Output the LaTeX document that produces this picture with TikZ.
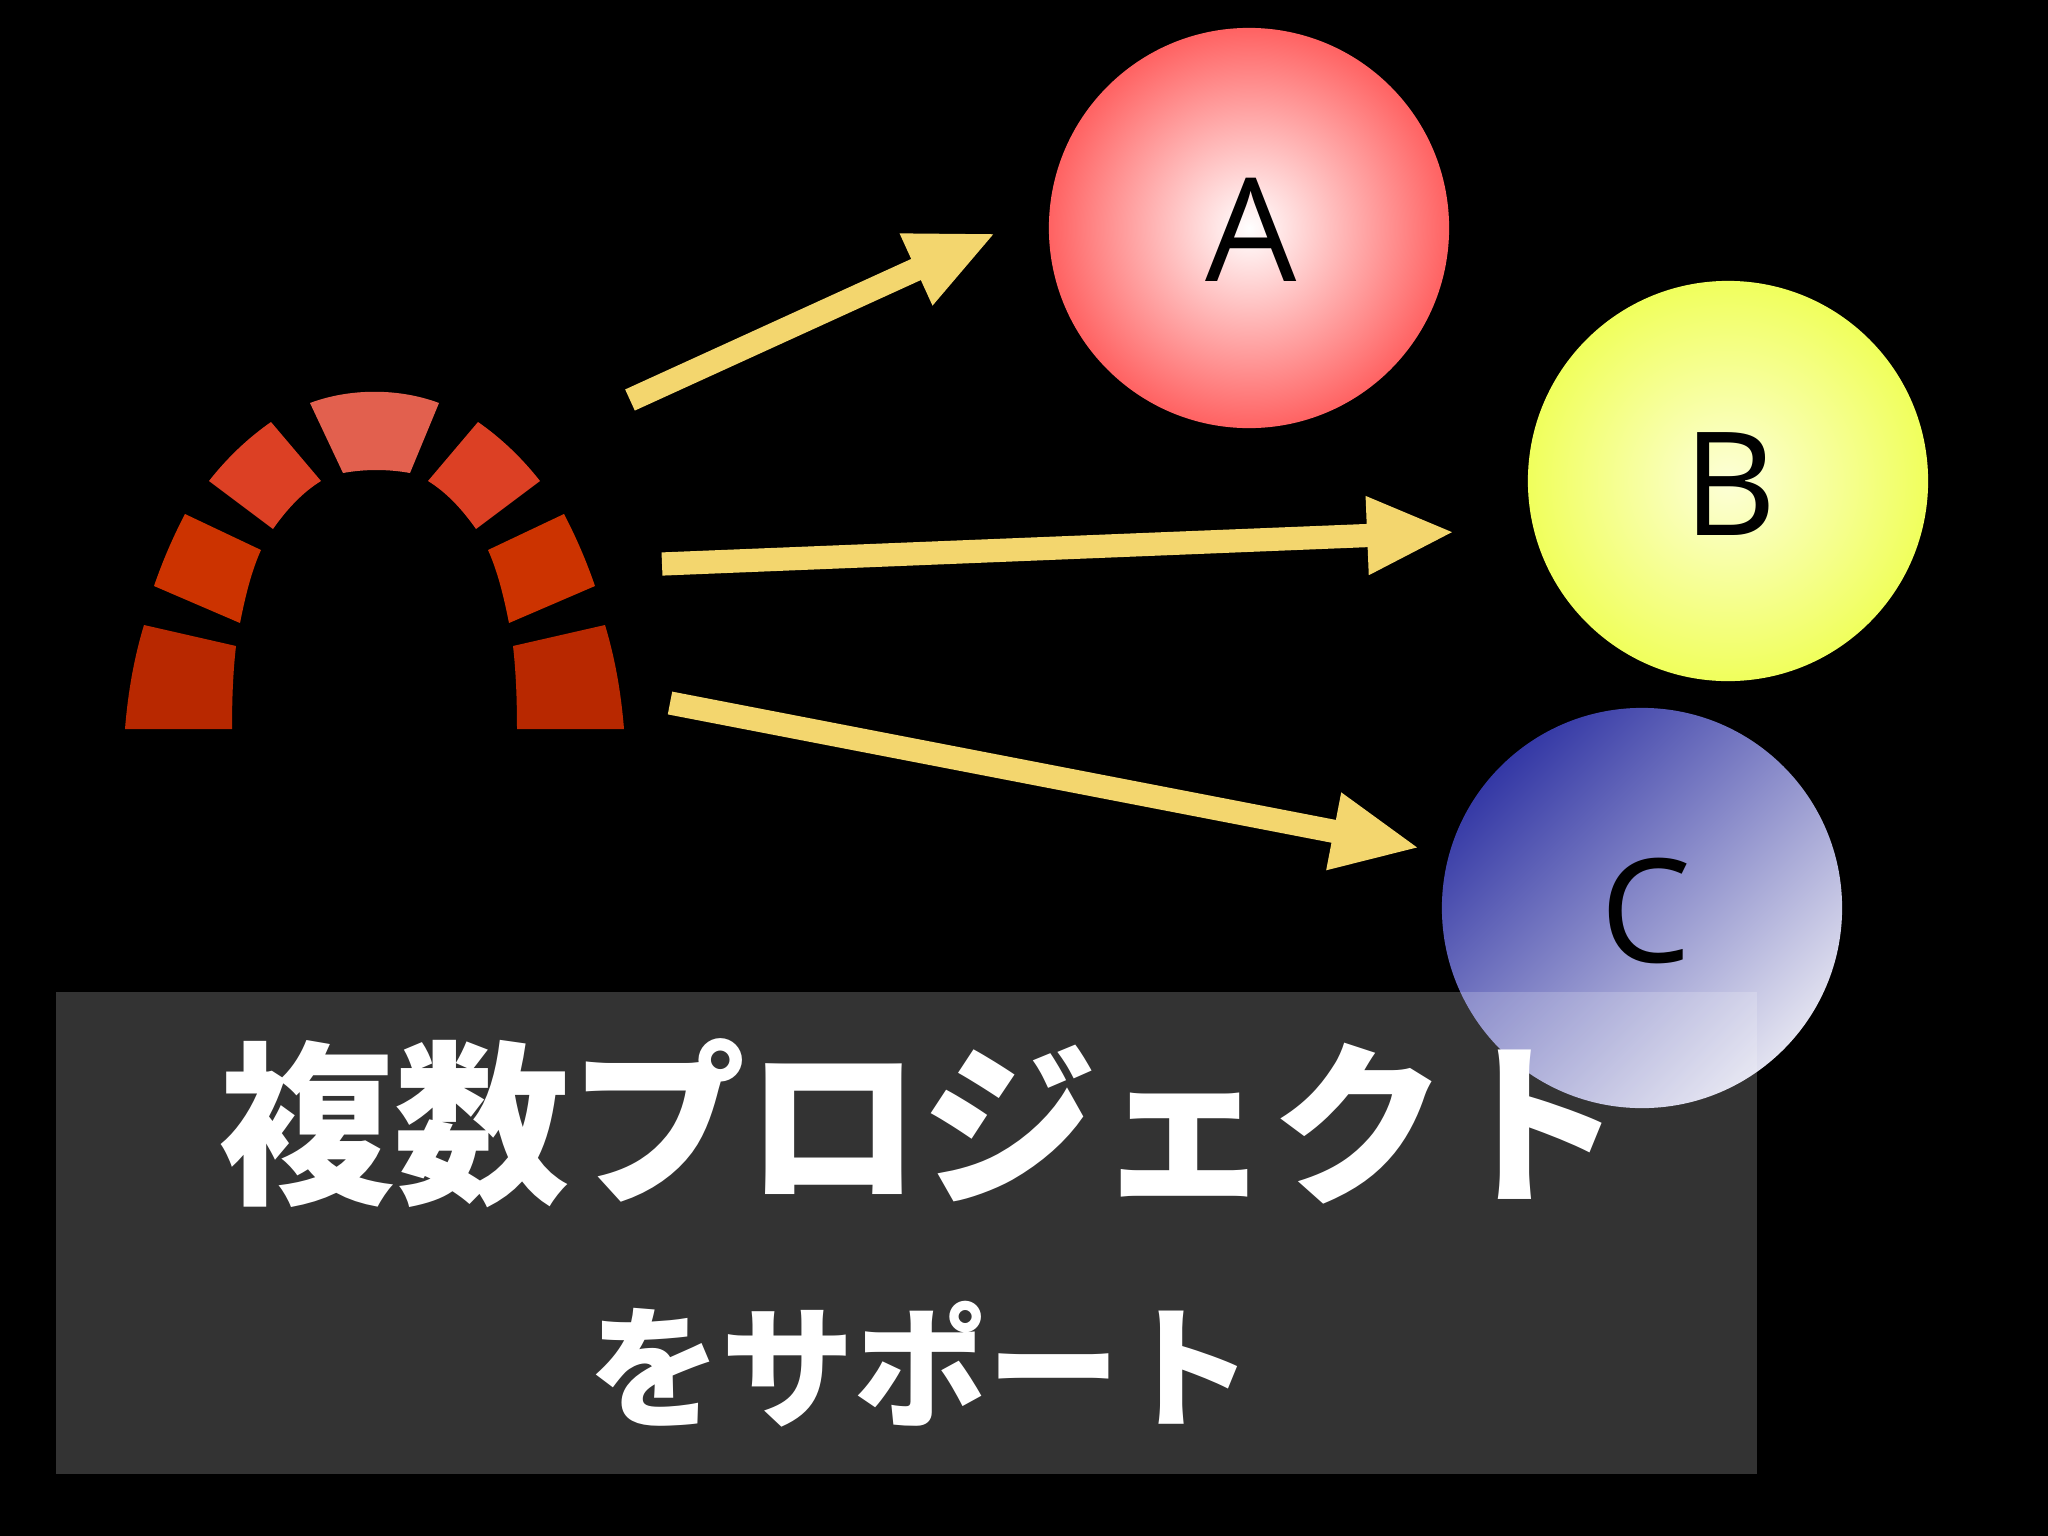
\documentclass[tikz,border=0pt]{standalone}
\usepackage{fontspec}
\usetikzlibrary{arrows.meta}
\setmainfont{Open Sans}
\newfontfamily\cjk{Noto Sans CJK JP}[BoldFont={Noto Sans CJK JP Black}]
\definecolor{arrowcol}{HTML}{F3D66E}
\definecolor{brickA}{HTML}{B82800}
\definecolor{brickB}{HTML}{CC3300}
\definecolor{brickC}{HTML}{DC4024}
\definecolor{brickD}{HTML}{E2604E}
\tikzset{
	ball/.style={circle, minimum size=4cm, inner sep=0pt},
	balltext/.style={text=black, inner sep=0pt, font=\fontsize{41}{48}\selectfont},
	pointer/.style={draw=arrowcol, line width=6.6pt, -{Triangle[length=25pt, width=20.5pt]}},
	caption/.style={text=white, inner sep=0pt}
}
\begin{document}
\begin{tikzpicture}[x=0.01cm, y=-0.01cm]
		\fill[black] (0,0) rectangle (2048,1536);
		\useasboundingbox (0,0) rectangle (2048,1536);
		% arch
		\foreach \m in {0,1} {
			\begin{scope}[shift={(749*\m,0)}, xscale=1-2*\m]
				\fill[brickA] (125,729) .. controls (128,692) and (134,658) .. (144,625) to (236,646) .. controls (233,672) and (232,700) .. (232,729) -- cycle;
				\fill[brickB] (154,586) .. controls (163,560) and (173,537) .. (185,514) to (261,550) .. controls (251,572) and (245,598) .. (240,623) -- cycle;
				\fill[brickC] (209,481) .. controls (227,458) and (248,438) .. (271,422) to (321,481) .. controls (303,492) and (287,509) .. (273,529) -- cycle;
			\end{scope}
		}
		\fill[brickD] (310,403) .. controls (350,388) and (399,388) .. (439,403) to (410,473) .. controls (388,469) and (365,469) .. (343,473) -- cycle;
		% circles
		\node[ball, inner color=white, outer color={rgb,255:red,255;green,98;blue,98}] (nodeA) at (1249,228) {};
		\node[ball, inner color={rgb,255:red,253;green,255;blue,215}, outer color={rgb,255:red,240;green,255;blue,92}] (nodeB) at (1728,481) {};
		\node[ball, top color={rgb,255:red,52;green,56;blue,165}, bottom color={rgb,255:red,226;green,226;blue,240}, shading angle=45] (nodeC) at (1642,908) {};
		\node[balltext] (labelA) at (1251,230) {A};
		\node[balltext] (labelB) at (1730,484) {B};
		\node[balltext] (labelC) at (1646,911) {C};
		% arrows
		\coordinate (startA) at (630,400);
		\coordinate (tipA) at (996,233);
		\coordinate (startB) at (662,564);
		\coordinate (tipB) at (1455,532);
		\coordinate (startC) at (670,703);
		\coordinate (tipC) at (1420,848);
		\draw[pointer] (startA) to (tipA);
		\draw[pointer] (startB) to (tipB);
		\draw[pointer] (startC) to (tipC);
		% band and text
		\fill[white, opacity=0.2] (56,992) rectangle (1757,1474);
		\node[caption, font=\cjk\bfseries\fontsize{49.9}{56}\selectfont] (titleA) at (921,1123) {複数プロジェクト};
		\node[caption, font=\cjk\bfseries\fontsize{37.8}{44}\selectfont] (titleB) at (921,1364) {をサポート};
	\end{tikzpicture}
\end{document}
